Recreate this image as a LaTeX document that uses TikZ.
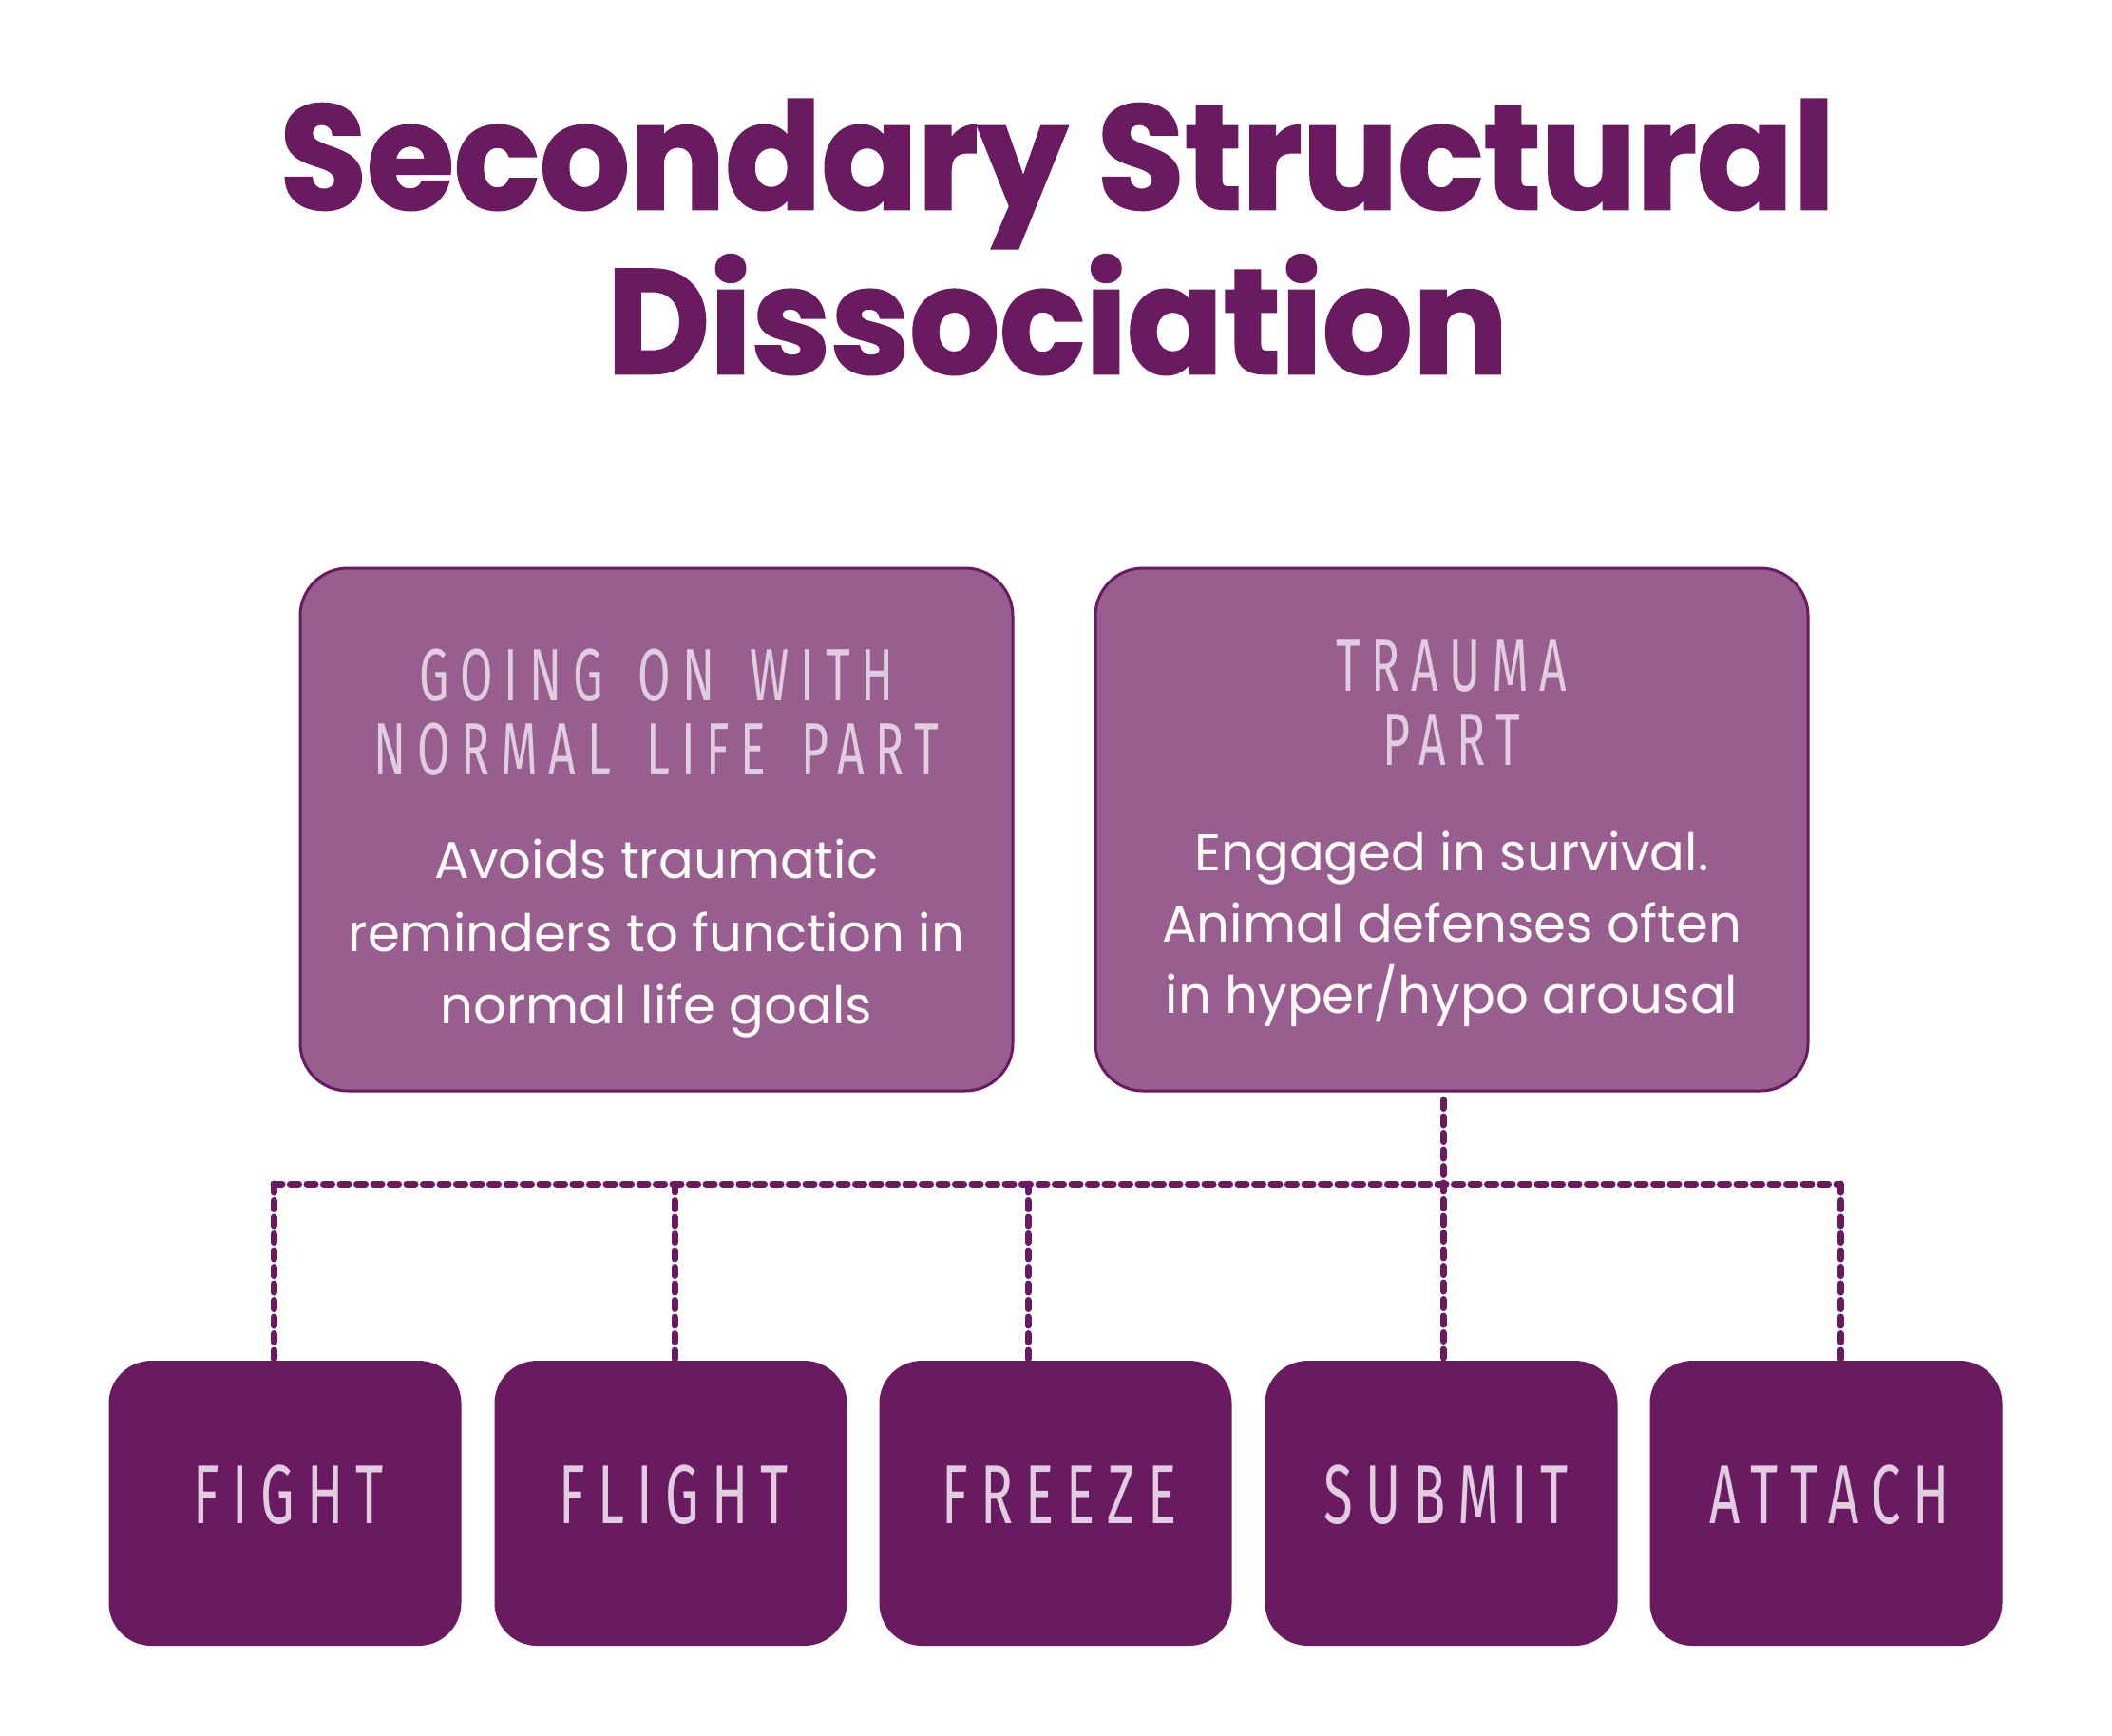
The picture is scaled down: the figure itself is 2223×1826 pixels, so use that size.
\documentclass[tikz,border=0pt]{standalone}
\usepackage{fontspec}
\setmainfont{Poppins}
\newfontfamily\titlefont{Poppins}[BoldFeatures={FakeBold=1.6, FakeStretch=0.955}]
\newfontfamily\oswfont{Fira Sans}[FakeStretch=0.64, LetterSpace=15, WordSpace=1.5]
\definecolor{dpurp}{RGB}{106,26,96}
\definecolor{mpurp}{RGB}{151,94,143}
\definecolor{lav}{RGB}{224,205,224}
\definecolor{cream}{RGB}{255,250,245}
\begin{document}
\begin{tikzpicture}[x=1pt,y=-1pt,
  topbox/.style={draw=dpurp, line width=3pt, fill=mpurp, rounded corners=50pt, minimum width=750pt, minimum height=550pt, inner sep=0pt},
  defbox/.style={fill=dpurp, rounded corners=45pt, minimum width=371pt, minimum height=300pt, inner sep=0pt},
  deflabel/.style={text=lav, font=\oswfont\fontsize{88}{88}\selectfont, anchor=base, inner sep=0pt},
  head/.style={text=lav, font=\oswfont\fontsize{78}{78}\selectfont, anchor=base, inner sep=0pt},
  body/.style={text=cream, font=\fontsize{54.5}{60}\selectfont, anchor=base, inner sep=0pt},
  ttl/.style={text=dpurp, font=\titlefont\bfseries\fontsize{156}{160}\selectfont, anchor=base, inner sep=0pt},
  link/.style={draw=dpurp, line width=7pt, line cap=round, dash pattern=on 9pt off 8.5pt}]
\useasboundingbox[fill=white] (0,0) rectangle (2223,1826);
% title
\node[ttl] (t1) at (1113,220) {Secondary Structural};
\node[ttl] (t2) at (1113,393) {Dissociation};
% top boxes
\node[topbox] (gonl) at (691,873) {};
\node[topbox] (trauma) at (1528,873) {};
\node[head] (g1) at (691,737) {GOING ON WITH};
\node[head] (g2) at (691,815) {NORMAL LIFE PART};
\node[body] (gb1) at (691,924) {Avoids traumatic};
\node[body] (gb2) at (691,1001) {reminders to function in};
\node[body] (gb3) at (691,1077) {normal life goals};
\node[head] (r1) at (1528,727) {TRAUMA};
\node[head] (r2) at (1528,805) {PART};
\node[body] (rb1) at (1528,916) {Engaged in survival.};
\node[body] (rb2) at (1528,991) {Animal defenses often};
\node[body] (rb3) at (1528,1066) {in hyper/hypo arousal};
% bottom boxes
\node[defbox] (fight) at (300,1582) {};
\node[defbox] (flight) at (706,1582) {};
\node[defbox] (freeze) at (1111,1582) {};
\node[defbox] (submit) at (1517,1582) {};
\node[defbox] (attach) at (1922,1582) {};
\node[deflabel] (lfight) at (304,1603) {FIGHT};
\node[deflabel] (lflight) at (709,1603) {FLIGHT};
\node[deflabel] (lfreeze) at (1115,1603) {FREEZE};
\node[deflabel] (lsubmit) at (1522,1603) {SUBMIT};
\node[deflabel] (lattach) at (1926,1603) {ATTACH};
% connectors
\coordinate (j1) at (288,1246);
\coordinate (j2) at (710,1246);
\coordinate (j3) at (1082,1246);
\coordinate (j4) at (1519,1246);
\coordinate (j5) at (1937,1246);
\draw[link] (j1) -- (j5);
\draw[link] (j1) -- (j1 |- fight.north);
\draw[link] (j2) -- (j2 |- flight.north);
\draw[link] (j3) -- (j3 |- freeze.north);
\draw[link] (j5) -- (j5 |- attach.north);
\draw[link, shorten <=8pt] (j4 |- trauma.south) -- (j4 |- submit.north);
\end{tikzpicture}
\end{document}
